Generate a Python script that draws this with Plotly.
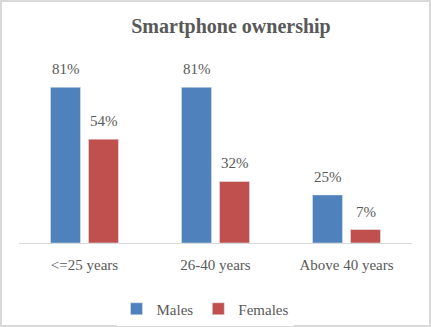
import plotly.graph_objects as go

categories = ["<=25 years", "26-40 years", "Above 40 years"]
males = [81, 81, 25]
females = [54, 32, 7]

W, H = 431, 327
L, R, T, B = 19, 19, 70, 84
pw, ph = W - L - R, H - T - B
font = "Liberation Serif"
grey = "#595959"

fig = go.Figure()
fig.add_trace(go.Bar(name="Males", x=categories, y=males, marker_color="#4F81BD"))
fig.add_trace(go.Bar(name="Females", x=categories, y=females, marker_color="#C0504D"))

for vals, shift in ((males, -19), (females, 19)):
    for c, v in zip(categories, vals):
        fig.add_annotation(x=c, y=v, text=f"{v}%", showarrow=False, xshift=shift,
                           yanchor="middle", yshift=18,
                           font=dict(family=font, size=15, color=grey))

def px_x(p):
    return (p - L) / pw

def px_y(p):
    return (H - B - p) / ph

fig.update_layout(
    width=W, height=H,
    margin=dict(l=L, r=R, t=T, b=B, autoexpand=False),
    paper_bgcolor="white", plot_bgcolor="white",
    barmode="group", bargap=0.42, bargroupgap=0.21,
    title=dict(text="<b>Smartphone ownership</b>", x=231 / W, xanchor="center",
               y=1 - 26 / H, yanchor="middle",
               font=dict(family=font, size=20, color=grey)),
    xaxis=dict(showline=True, linecolor="#D9D9D9", linewidth=1, ticks="",
               ticklabelstandoff=8,
               tickfont=dict(family=font, size=15, color=grey), showgrid=False,
               automargin=False),
    yaxis=dict(range=[0, 90], visible=False, showgrid=False, automargin=False),
    legend=dict(orientation="h", x=px_x(205), xanchor="center", y=px_y(309), yanchor="middle",
                font=dict(family=font, size=15, color=grey), itemwidth=30,
                traceorder="normal"),
    showlegend=True,
    shapes=[dict(type="rect", xref="paper", yref="paper",
                 x0=px_x(1), x1=px_x(430), y0=px_y(326), y1=px_y(1),
                 line=dict(color="#D9D9D9", width=2), fillcolor="rgba(0,0,0,0)",
                 layer="below")],
)

fig.write_html("out.html")
